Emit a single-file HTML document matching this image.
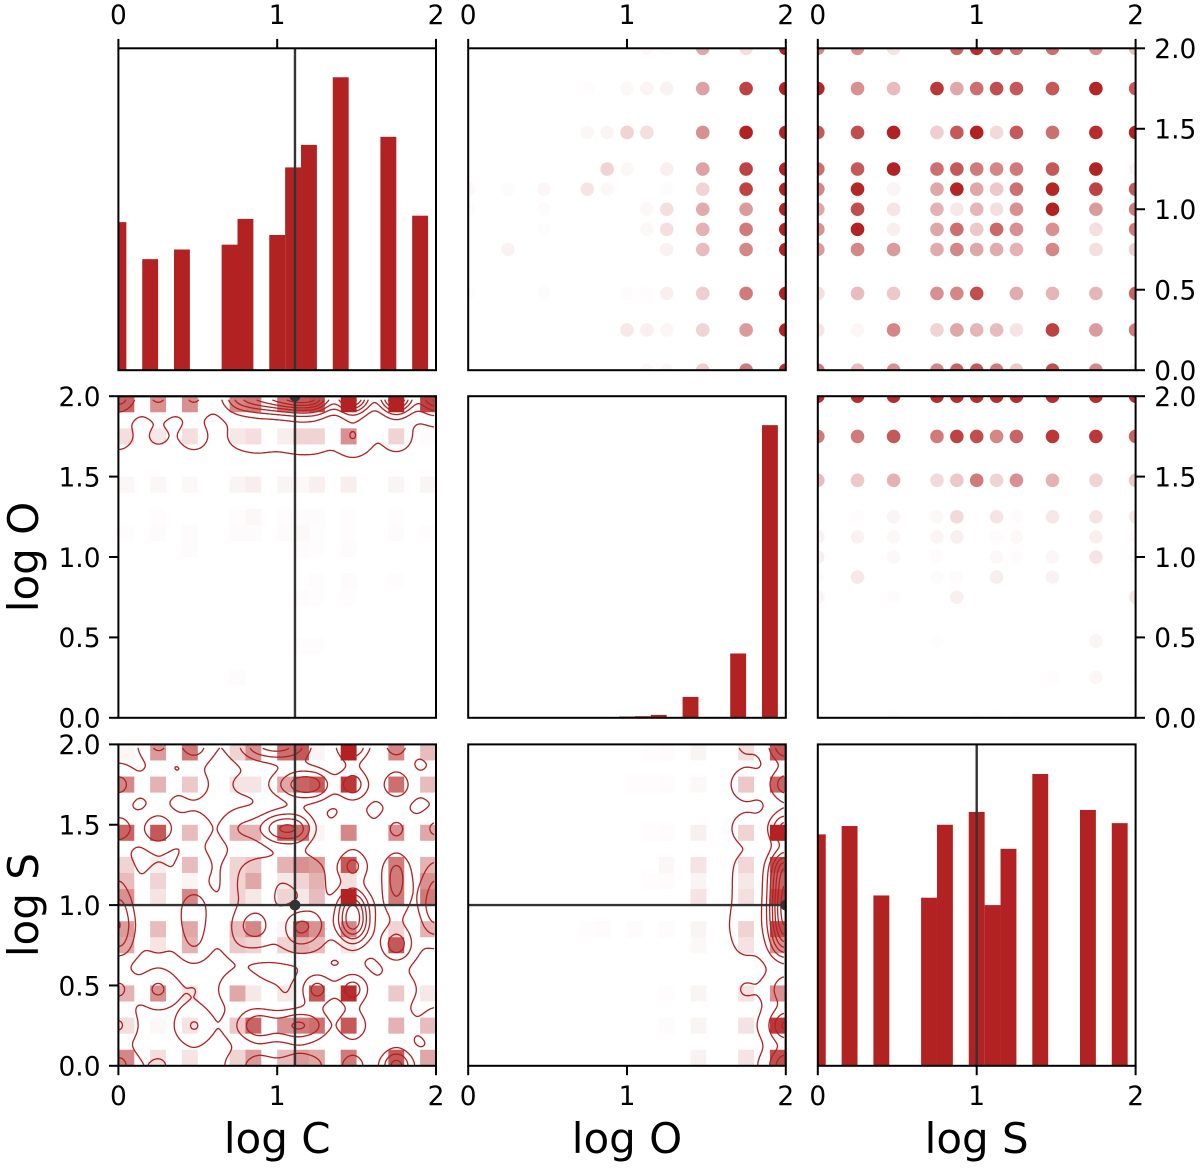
<!DOCTYPE html>
<html>
<head>
<meta charset="utf-8">
<title>Corner plot of log C, log O, log S</title>
<style>
html,body{margin:0;padding:0;background:#fff;}
svg{display:block;font-family:"DejaVu Sans","Liberation Sans",sans-serif;}
</style>
</head>
<body>
<svg id="chart" xmlns="http://www.w3.org/2000/svg" width="1200" height="1168" viewBox="0 0 1200 1168"></svg>
<script>
// ---------- data ----------
const logGrid = [0, 0.25, 0.477, 0.75, 0.875, 1, 1.125, 1.25, 1.477, 1.75, 2];
const xTickValues = [0, 1, 2];
const yTickValues = [0, 0.5, 1, 1.5, 2];
const yTickLabels = ['0.0', '0.5', '1.0', '1.5', '2.0'];
const bestFitC = 1.112;
const bestFitO = 2;
const bestFitS = 1;

const histBinStarts = [0, 0.2, 0.4, 0.7, 0.8, 1, 1.1, 1.2, 1.4, 1.7, 1.9];
const histC = [0.46, 0.345, 0.375, 0.39, 0.47, 0.42, 0.63, 0.70, 0.91, 0.725, 0.48];
const histO = [0, 0.001, 0, 0.001, 0.001, 0.004, 0.005, 0.009, 0.065, 0.2, 0.91];
const histS = [0.72, 0.746, 0.53, 0.523, 0.75, 0.79, 0.50, 0.675, 0.908, 0.796, 0.755];

// scatter opacities: rows run from value 2 (top) down to 0, columns from 0 to 2
const scatterCvsO = [
 [0,0,0,0,0,0,.03,.02,.4,.15,1],
 [0,0,0,.01,0,.03,.05,.06,.42,.85,1],
 [0,0,0,.04,.05,.2,.15,0,.5,1,1],
 [0,0,0,0,.2,.04,0,.07,.42,.85,1],
 [.03,.02,.04,.12,.03,0,0,.02,.2,.85,1],
 [.02,0,.02,0,0,0,.03,.15,.38,.45,1],
 [0,0,.015,0,0,0,.03,.15,.35,.6,1],
 [0,.06,0,0,0,0,0,.06,.3,.55,1],
 [.015,0,.02,0,0,.02,.015,.07,.22,.6,1],
 [0,0,0,0,0,.1,.07,.04,.2,.45,1],
 [0,0,0,0,0,0,.03,.03,.22,.6,.95]
];
const scatterCvsS = [
 [.55,.5,.12,0,.7,.95,.8,.65,.65,.5,.3],
 [.98,.5,.3,.9,.4,.65,.8,.75,.75,.98,.75],
 [.75,.8,1,.22,.75,1,.17,.75,.65,.95,1],
 [.65,.75,1,.65,.75,.6,.55,.6,.75,1,.05],
 [.55,.98,.05,.4,.98,.4,.25,.65,.98,.85,.75],
 [.4,.8,.12,.35,.1,.33,.15,.5,1,.45,.6],
 [.5,1,.07,.4,.65,.25,.68,.5,.5,.15,.6],
 [.45,.55,.45,.38,.55,.4,.38,.35,.55,.15,.22],
 [.15,.3,.25,.5,.55,.8,0,.38,.33,.33,.7],
 [.12,.04,.55,.2,.4,.33,.3,.12,.85,.45,.6],
 [.6,.3,.5,.55,.7,.75,.6,.25,.8,.55,.05]
];
const scatterOvsS = [
 [.95,.95,.95,.95,.95,.95,.95,.95,.95,.95,.95],
 [.6,.6,.75,.6,.85,.8,.55,.7,.9,.9,.7],
 [.3,.25,.35,.17,.25,.6,.2,.5,.35,.2,.25],
 [.02,.01,.05,.03,.17,0,.12,.02,.1,.12,.1],
 [.06,.06,.03,.05,.07,0,.02,.03,0,.07,.03],
 [.08,0,.03,.02,0,0,.03,.02,.04,.12,.03],
 [.02,.1,0,.02,.02,0,.08,0,.06,0,0],
 [.05,0,.02,0,.07,0,0,0,0,0,.1],
 [0,0,0,.01,0,0,0,0,0,.05,0],
 [0,0,0,0,0,0,0,0,.015,.04,.01],
 [0,0,.02,0,0,.015,.015,.015,0,0,0]
];

// heatmap opacities: rows run from value 2 (top) down to 0, columns from 0 to 2
const heatOvsC = [
 [.7,.5,.5,.55,.6,.65,.75,.8,1,1,.85],
 [.15,.1,.15,.1,.15,.08,.2,.2,.5,.2,.02],
 [.04,.04,.03,.05,.08,.05,.03,.07,.08,.05,.05],
 [0,.01,0,.01,.03,.01,.02,.02,.01,.01,0],
 [.015,.02,.02,.02,.02,.02,.03,.01,.01,.02,.01],
 [0,0,.02,0,0,0,.02,.01,.02,0,0],
 [0,0,0,0,0,0,0,.01,.02,.01,0],
 [0,0,0,0,0,0,.02,.01,.01,0,0],
 [0,0,0,0,0,0,.01,.01,0,0,0],
 [0,0,.0,.02,0,0,0,0,0,0,0],
 [0,0,0,0,0,0,0,0,0,0,0]
];
const heatSvsC = [
 [.04,.45,.6,.2,.5,.65,.75,.05,1,.55,.3],
 [.55,.35,.25,.12,.12,.4,.7,.75,.9,.65,.3],
 [.7,.75,.3,.35,.35,.75,.65,.05,.55,.5,.4],
 [.2,.08,.3,.2,.25,.35,.5,.45,.75,.6,.35],
 [.3,.2,.05,.2,.4,.1,.2,.35,.15,.6,.5],
 [.5,.12,.55,.2,.1,.2,.1,.3,1,.6,.6],
 [.45,.3,.4,.3,.55,.05,.7,.5,.55,.2,.35],
 [.4,.12,.35,.25,.2,.2,.35,.3,.1,.75,0],
 [.35,.5,.12,.4,.1,.1,0,.75,.95,.25,.1],
 [.15,.03,.12,.25,.7,.5,.6,.65,.75,.35,.3],
 [.55,.15,.12,.2,.45,.3,.45,.4,.6,.75,.4]
];
const heatSvsO = [
 [0,0,0,0,0,0,.01,.02,.05,.15,.75],
 [0,0,0,0,0,.01,.01,.02,.03,.25,.7],
 [0,0,0,0,0,0,.01,.02,.07,.2,1],
 [0,0,0,0,0,0,0,.04,.12,.18,.8],
 [0,0,0,0,0,0,.01,.02,.05,.1,.7],
 [0,0,0,0,0,0,0,0,.12,.15,.85],
 [0,0,0,.01,.02,.02,0,.02,.05,.2,.8],
 [0,0,0,0,0,0,0,0,.03,.13,.5],
 [0,0,0,0,0,0,0,.01,.05,.13,.5],
 [0,0,0,0,0,0,0,.02,.05,.13,.9],
 [0,0,0,0,0,0,0,0,.06,.12,.8]
];

// kernel-density sample weights behind the contours, same row / column order
const kdeOvsC = [
 [1,.5,.5,1,1.3,1.6,2,2,2.4,2.4,1.6],
 [.18,.12,.18,.12,.2,.12,.22,.22,.45,.22,.05],
 [0,0,0,0,0,0,0,0,0,0,0],
 [0,0,0,0,0,0,0,0,0,0,0],
 [0,0,0,0,0,0,0,0,0,0,0],
 [0,0,0,0,0,0,0,0,0,0,0],
 [0,0,0,0,0,0,0,0,0,0,0],
 [0,0,0,0,0,0,0,0,0,0,0],
 [0,0,0,0,0,0,0,0,0,0,0],
 [0,0,0,0,0,0,0,0,0,0,0],
 [0,0,0,0,0,0,0,0,0,0,0]
];
const kdeSvsC = [
 [.05,.5,.65,.2,.75,.9,.7,.1,1.15,.6,.35],
 [.55,.35,.25,.12,.12,.4,.9,.95,.95,.7,.3],
 [.65,.75,.3,.35,.35,1,1.05,.15,.42,.5,.5],
 [.2,.08,.3,.2,.3,.3,.42,.3,.8,.6,.35],
 [.3,.2,.05,.2,.47,.1,.2,.35,.15,.6,.55],
 [.6,.12,.55,.2,.2,.2,.1,.3,1.3,.45,.8],
 [.8,.3,.45,.3,.7,.05,.8,.5,1.5,.2,.5],
 [.6,.12,.35,.25,.2,.2,.35,.3,.3,.9,.05],
 [.5,.5,.12,.4,.1,.1,0,.85,.9,.42,.1],
 [.47,.03,.47,.25,.85,.5,.85,.6,.75,.35,.3],
 [.55,.15,.12,.2,.45,.3,.45,.4,.6,1.2,.4]
];
const kdeSvsO = [
 [0,0,0,0,0,0,0,0,0,.12,1.2],
 [0,0,0,0,0,0,0,0,0,.22,1],
 [0,0,0,0,0,0,0,0,0,.2,1.3],
 [0,0,0,0,0,0,0,0,0,.13,1.6],
 [0,0,0,0,0,0,0,0,0,.13,1.7],
 [0,0,0,0,0,0,0,0,0,.13,1.9],
 [0,0,0,0,0,0,0,0,0,.2,1.8],
 [0,0,0,0,0,0,0,0,0,.12,1.2],
 [0,0,0,0,0,0,0,0,0,.11,.7],
 [0,0,0,0,0,0,0,0,0,.05,1.2],
 [0,0,0,0,0,0,0,0,0,.05,1.1]
];
// density values at which contours are drawn
const contourLevelsSvsC = [0.13, 0.45, 0.77, 1.09, 1.41, 1.73, 2.05];
const contourLevelsOvsC = [0.1, 0.45, 0.8, 1.15, 1.5, 1.85, 2.2, 2.55];
const contourLevelsSvsO = [0.1, 0.45, 0.8, 1.15, 1.5, 1.85, 2.2, 2.55];
const kdeBandwidth = 0.075;

// ---------- layout ----------
const colEdges = [[118.4, 436], [468.2, 785.8], [817.8, 1135.6]];
const rowEdges = [[48.3, 370.2], [396.2, 717.8], [744.4, 1065.8]];
const RED = '#b22222';
const DARK = '#333333';
const svg = document.getElementById('chart');
const NS = 'http://www.w3.org/2000/svg';

function make(tag, attrs, parent) {
  const el = document.createElementNS(NS, tag);
  for (const k in attrs) el.setAttribute(k, attrs[k]);
  (parent || svg).appendChild(el);
  return el;
}
function sx(col, v) { const e = colEdges[col]; return e[0] + (e[1] - e[0]) * v / 2; }
function sy(row, v) { const e = rowEdges[row]; return e[1] - (e[1] - e[0]) * v / 2; }

const defs = make('defs', {});
function panel(row, col, name) {
  const id = 'clip-' + row + '-' + col + '-' + defs.childNodes.length;
  const cp = make('clipPath', { id: id }, defs);
  make('rect', { x: colEdges[col][0], y: rowEdges[row][0],
    width: colEdges[col][1] - colEdges[col][0], height: rowEdges[row][1] - rowEdges[row][0] }, cp);
  const g = make('g', { 'clip-path': 'url(#' + id + ')' });
  
  
  return g;
}

function drawHist(row, col, values, name) {
  const g = panel(row, col, name);
  const bottom = rowEdges[row][1], full = bottom - rowEdges[row][0];
  values.forEach(function (v, i) {
    const x0 = sx(col, histBinStarts[i] - 0.05), x1 = sx(col, histBinStarts[i] + 0.05);
    const r = make('rect', { x: x0, y: bottom - v * full, width: x1 - x0, height: v * full, fill: RED }, g);
    
    
  });
}

function drawScatter(row, col, grid, name) {
  const g = panel(row, col, name);
  grid.forEach(function (rowVals, r) {
    const yVal = logGrid[logGrid.length - 1 - r];
    rowVals.forEach(function (a, c) {
      if (a <= 0) return;
      const dot = make('circle', { cx: sx(col, logGrid[c]), cy: sy(row, yVal), r: 6.8, fill: RED, 'fill-opacity': a }, g);
      
      
    });
  });
}

function binOf(v) { return Math.min(19, Math.floor(v * 10 + 1e-9)); }

function drawHeat(row, col, grid, weights, levels, name) {
  const g = panel(row, col, name);
  grid.forEach(function (rowVals, r) {
    const yVal = logGrid[logGrid.length - 1 - r];
    const by = binOf(yVal) / 10;
    rowVals.forEach(function (a, c) {
      if (a <= 0) return;
      const bx = binOf(logGrid[c]) / 10;
      const x0 = sx(col, bx), x1 = sx(col, bx + 0.1), y1 = sy(row, by), y0 = sy(row, by + 0.1);
      const cell = make('rect', { x: x0, y: y0, width: x1 - x0, height: y1 - y0, fill: RED, 'fill-opacity': a }, g);
      
      
    });
  });
  // kernel density contours computed from the weight grid
  const n = 220, xmin = 0, xmax = 1.985, ymin = 0, ymax = 1.975;
  const gx = [], gy = [];
  const kern = function (d) { return Math.exp(-d * d / (2 * kdeBandwidth * kdeBandwidth)); };
  for (let i = 0; i <= n; i++) {
    gx.push(logGrid.map(function (v) { return kern(xmin + (xmax - xmin) * i / n - v); }));
    gy.push(logGrid.map(function (v) { return kern(ymin + (ymax - ymin) * i / n - v); }));
  }
  const field = [];
  for (let j = 0; j <= n; j++) {
    const line = new Float64Array(n + 1);
    for (let i = 0; i <= n; i++) {
      let s = 0;
      for (let r = 0; r < 11; r++) {
        const wy = gy[j][10 - r];
        if (wy < 1e-5) continue;
        for (let c = 0; c < 11; c++) s += weights[r][c] * wy * gx[i][c];
      }
      line[i] = s;
    }
    field.push(line);
  }
  const px = function (i) { return sx(col, xmin + (xmax - xmin) * i / n); };
  const py = function (j) { return sy(row, ymin + (ymax - ymin) * j / n); };
  levels.forEach(function (L) {
    let d = '';
    const seg = function (a, b) {
      d += 'M' + a[0].toFixed(1) + ' ' + a[1].toFixed(1) + 'L' + b[0].toFixed(1) + ' ' + b[1].toFixed(1);
    };
    for (let j = 0; j < n; j++) {
      for (let i = 0; i < n; i++) {
        const a = field[j][i], b = field[j][i + 1], c2 = field[j + 1][i + 1], e = field[j + 1][i];
        const idx = (a > L ? 1 : 0) | (b > L ? 2 : 0) | (c2 > L ? 4 : 0) | (e > L ? 8 : 0);
        if (idx === 0 || idx === 15) continue;
        const B = [px(i + (L - a) / (b - a)), py(j)];
        const R = [px(i + 1), py(j + (L - b) / (c2 - b))];
        const T = [px(i + (L - e) / (c2 - e)), py(j + 1)];
        const Lf = [px(i), py(j + (L - a) / (e - a))];
        switch (idx) {
          case 1: case 14: seg(Lf, B); break;
          case 2: case 13: seg(B, R); break;
          case 3: case 12: seg(Lf, R); break;
          case 4: case 11: seg(R, T); break;
          case 6: case 9: seg(B, T); break;
          case 7: case 8: seg(Lf, T); break;
          case 5: seg(Lf, T); seg(B, R); break;
          case 10: seg(Lf, B); seg(R, T); break;
        }
      }
    }
    const path = make('path', { d: d, fill: 'none', stroke: RED, 'stroke-width': 1.3, 'stroke-linecap': 'round' }, g);
    
    
  });
}

function crosshair(row, col, xv, yv) {
  const g = panel(row, col, 'best-fit-marker-' + row + '-' + col);
  const t = rowEdges[row], l = colEdges[col];
  if (xv !== null) {
    const v = make('line', { x1: sx(col, xv), x2: sx(col, xv), y1: t[0], y2: t[1], stroke: DARK, 'stroke-width': 2.4 }, g);
    
    
  }
  if (yv !== null) {
    const h = make('line', { x1: l[0], x2: l[1], y1: sy(row, yv), y2: sy(row, yv), stroke: DARK, 'stroke-width': 2.4 }, g);
    
    
  }
  if (xv !== null && yv !== null) {
    const c = make('circle', { cx: sx(col, xv), cy: sy(row, yv), r: 5.4, fill: DARK }, g);
    
    
  }
}

function frame(row, col) {
  const r = make('rect', { x: colEdges[col][0], y: rowEdges[row][0],
    width: colEdges[col][1] - colEdges[col][0], height: rowEdges[row][1] - rowEdges[row][0],
    fill: 'none', stroke: '#000', 'stroke-width': 2 });
  
  
}

function tick(x1, y1, x2, y2) {
  const t = make('line', { x1: x1, y1: y1, x2: x2, y2: y2, stroke: '#000', 'stroke-width': 2 });
  
  
}
function label(x, y, str, anchor, size) {
  const t = make('text', { x: x, y: y, 'text-anchor': anchor, 'font-size': size, fill: '#000' });
  t.textContent = str;
  
  
  return t;
}

// ---------- panels ----------
drawHist(0, 0, histC, 'log-c-histogram');
drawHist(1, 1, histO, 'log-o-histogram');
drawHist(2, 2, histS, 'log-s-histogram');
drawScatter(0, 1, scatterCvsO, 'log-c-vs-log-o-scatter');
drawScatter(0, 2, scatterCvsS, 'log-c-vs-log-s-scatter');
drawScatter(1, 2, scatterOvsS, 'log-o-vs-log-s-scatter');
drawHeat(1, 0, heatOvsC, kdeOvsC, contourLevelsOvsC, 'log-o-vs-log-c-heatmap');
drawHeat(2, 0, heatSvsC, kdeSvsC, contourLevelsSvsC, 'log-s-vs-log-c-heatmap');
drawHeat(2, 1, heatSvsO, kdeSvsO, contourLevelsSvsO, 'log-s-vs-log-o-heatmap');

crosshair(0, 0, bestFitC, null);
crosshair(1, 0, bestFitC, bestFitO);
crosshair(2, 0, bestFitC, bestFitS);
crosshair(2, 1, bestFitO, bestFitS);
crosshair(2, 2, bestFitS, null);

for (let r = 0; r < 3; r++) for (let c = 0; c < 3; c++) frame(r, c);

// ---------- axes ----------
const TICK = 9.4, FS = 26.4;
[0, 1, 2].forEach(function (c) {
  xTickValues.forEach(function (v) {
    const x = sx(c, v);
    tick(x, rowEdges[0][0], x, rowEdges[0][0] - TICK);
    label(x, 24, String(v), 'middle', FS);
    tick(x, rowEdges[2][1], x, rowEdges[2][1] + TICK);
    label(x, 1105, String(v), 'middle', FS);
  });
});
[0, 1].forEach(function (r) {
  yTickValues.forEach(function (v, i) {
    const y = sy(r, v);
    tick(colEdges[2][1], y, colEdges[2][1] + TICK, y);
    label(1154.3, y + 9.8, yTickLabels[i], 'start', FS);
  });
});
[1, 2].forEach(function (r) {
  yTickValues.forEach(function (v, i) {
    const y = sy(r, v);
    tick(colEdges[0][0], y, colEdges[0][0] - TICK, y);
    label(100.5, y + 9.8, yTickLabels[i], 'end', FS);
  });
});

const xTitles = ['log C', 'log O', 'log S'];
xTitles.forEach(function (s, c) {
  const t = make('text', { x: (colEdges[c][0] + colEdges[c][1]) / 2, y: 1153, 'text-anchor': 'middle', 'font-size': 42, fill: '#000' });
  t.textContent = s;
  
  
});
const yTitles = [['log O', 1], ['log S', 2]];
yTitles.forEach(function (p) {
  const cy = (rowEdges[p[1]][0] + rowEdges[p[1]][1]) / 2;
  const t = make('text', { x: 38, y: cy, 'text-anchor': 'middle', 'font-size': 42, fill: '#000', transform: 'rotate(-90 38 ' + cy + ')' });
  t.textContent = p[0];
  
  
});
</script>
</body>
</html>
